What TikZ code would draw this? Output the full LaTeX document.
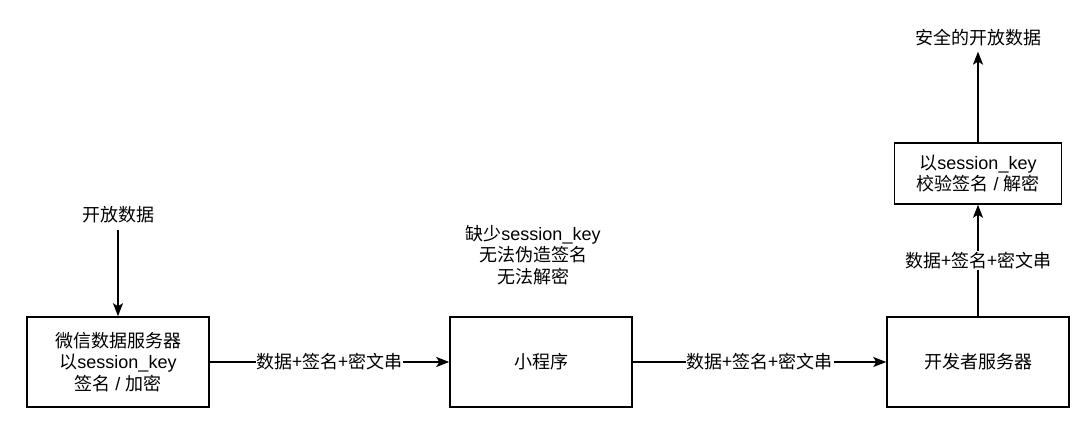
\documentclass[tikz,border=0pt]{standalone}
\usepackage{fontspec}
\setmainfont{Liberation Sans}
\newfontfamily\cjk{Noto Sans CJK SC}
\usetikzlibrary{arrows.meta,positioning}
\newcommand{\skey}{session\_key}
\newcommand{\payload}{{\cjk 数据+签名+密文串}}

\begin{document}
\begin{tikzpicture}[x=1pt, y=-1pt, font=\fontsize{18}{21.6}\selectfont,
    box/.style={draw, line width=1.5pt, minimum width=182pt, minimum height=90pt, align=center, inner sep=0pt},
    flow/.style={-{Stealth[length=13pt, width=10pt, inset=3pt]}, line width=1.5pt},
    lbl/.style={fill=white, inner sep=1pt},
    txt/.style={align=center, inner sep=6pt}]
    \useasboundingbox (0,0) rectangle (1084,437);
    % main row
    \node[box] (wxsrv) at (118,362) {{\cjk 微信数据服务器}\\{\cjk 以}\skey\\{\cjk 签名} / {\cjk 加密}};
    \node[box] (miniapp) at (541,362) {\cjk 小程序};
    \node[box] (devsrv) at (978,362) {\cjk 开发者服务器};
    \node[box, minimum width=167pt, minimum height=61pt] (verify) at (978,173.5)
        {{\cjk 以}\skey\\{\cjk 校验签名} / {\cjk 解密}};
    % free texts
    \node[txt] (opendata) at (118,215) {\cjk 开放数据};
    \node[txt, inner sep=5pt] (safedata) at (978,38) {\cjk 安全的开放数据};
    \node[txt] (nokey) at (533,255) {{\cjk 缺少}\skey\\{\cjk 无法伪造签名}\\{\cjk 无法解密}};
    % arrows
    \draw[flow] (opendata) -- (wxsrv);
    \draw[flow] (wxsrv) -- (miniapp) node[midway, lbl] {\payload};
    \draw[flow] (miniapp) -- (devsrv) node[midway, lbl] {\payload};
    \draw[flow] (devsrv) -- (verify) node[midway, lbl] {\payload};
    \draw[flow] (verify) -- (safedata);
\end{tikzpicture}
\end{document}
